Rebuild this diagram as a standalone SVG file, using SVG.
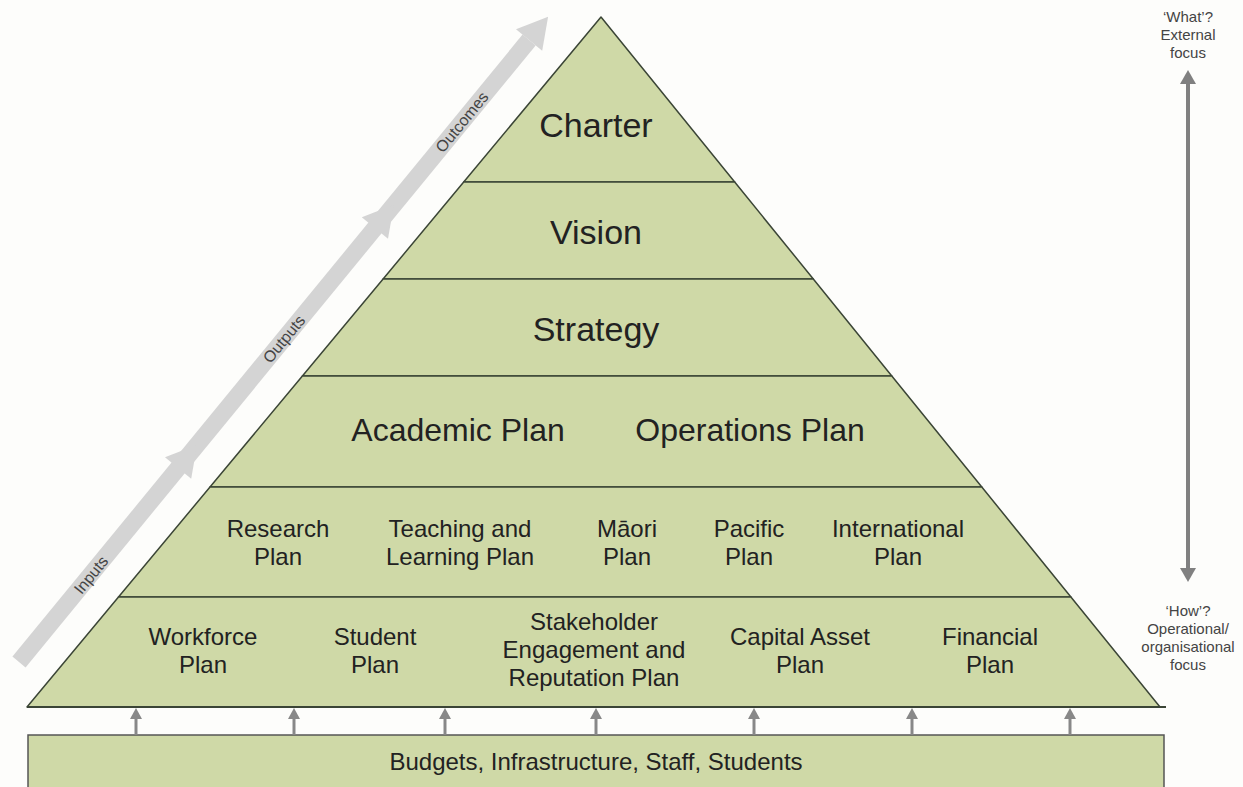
<svg xmlns="http://www.w3.org/2000/svg" width="1243" height="787" viewBox="0 0 1243 787">
<style>
.tier{fill:#cfd9a7;stroke:#3b4536;stroke-width:1.5;stroke-linejoin:round}
.t{font-family:"Liberation Sans",Arial,sans-serif;fill:#222;text-anchor:middle}
.big{font-size:34px}
.mid{font-size:32px}
.sm{font-size:24px}
.side{font-family:"Liberation Sans",Arial,sans-serif;font-size:15px;fill:#444;text-anchor:middle}
.band{font-family:"Liberation Sans",Arial,sans-serif;font-size:16px;fill:#444;text-anchor:middle}
.up{stroke:#888;stroke-width:3;fill:none}
.uph{fill:#888}
</style>
<rect x="0" y="0" width="1243" height="787" fill="#fdfdfb"/>

<g id="flow-band">
<line x1="19" y1="662" x2="529.1" y2="40" stroke="#d4d4d4" stroke-width="17"/>
<polygon points="191.2,478.8 165,457.2 197.1,444.8" fill="#d4d4d4"/>
<polygon points="388,238.8 361.8,217.2 393.9,204.8" fill="#d4d4d4"/>
<polygon points="542.2,50.8 516,29.2 548.1,16.8" fill="#d4d4d4"/>
<text class="band" transform="translate(91,575) rotate(-50.6)" dy="5.5">Inputs</text>
<text class="band" transform="translate(284,339) rotate(-50.6)" dy="5.5">Outputs</text>
<text class="band" transform="translate(462,122) rotate(-50.6)" dy="5.5">Outcomes</text>
</g>

<g id="charter">
<polygon class="tier" points="601,17 734.7,182 463.7,182"/>
<text class="t big" x="596" y="137">Charter</text>
</g>
<g id="vision">
<polygon class="tier" points="463.7,182 734.7,182 813.3,279 383.1,279"/>
<text class="t big" x="596" y="244">Vision</text>
</g>
<g id="strategy">
<polygon class="tier" points="383.1,279 813.3,279 891.8,376 302.4,376"/>
<text class="t big" x="596" y="341">Strategy</text>
</g>
<g id="academic-operations">
<polygon class="tier" points="302.4,376 891.8,376 981.8,487 210,487"/>
<g id="academic-plan"><text class="t mid" x="458" y="441">Academic Plan</text></g>
<g id="operations-plan"><text class="t mid" x="750" y="441">Operations Plan</text></g>
</g>
<g id="academic-plans">
<polygon class="tier" points="210,487 981.8,487 1070.9,597 118.5,597"/>
<g id="research-plan"><text class="t sm" x="278" y="537">Research</text><text class="t sm" x="278" y="565">Plan</text></g>
<g id="teaching-plan"><text class="t sm" x="460" y="537">Teaching and</text><text class="t sm" x="460" y="565">Learning Plan</text></g>
<g id="maori-plan"><text class="t sm" x="627" y="537">Māori</text><text class="t sm" x="627" y="565">Plan</text></g>
<g id="pacific-plan"><text class="t sm" x="749" y="537">Pacific</text><text class="t sm" x="749" y="565">Plan</text></g>
<g id="international-plan"><text class="t sm" x="898" y="537">International</text><text class="t sm" x="898" y="565">Plan</text></g>
</g>
<g id="operations-plans">
<polygon class="tier" points="118.5,597 1070.9,597 1160,707 27,707"/>
<line x1="27" y1="707" x2="1166" y2="707" stroke="#3b4536" stroke-width="2"/>
<g id="workforce-plan"><text class="t sm" x="203" y="645">Workforce</text><text class="t sm" x="203" y="673">Plan</text></g>
<g id="student-plan"><text class="t sm" x="375" y="645">Student</text><text class="t sm" x="375" y="673">Plan</text></g>
<g id="stakeholder-plan"><text class="t sm" x="594" y="630">Stakeholder</text><text class="t sm" x="594" y="658">Engagement and</text><text class="t sm" x="594" y="686">Reputation Plan</text></g>
<g id="capital-asset-plan"><text class="t sm" x="800" y="645">Capital Asset</text><text class="t sm" x="800" y="673">Plan</text></g>
<g id="financial-plan"><text class="t sm" x="990" y="645">Financial</text><text class="t sm" x="990" y="673">Plan</text></g>
</g>

<g id="resources">
<rect x="28" y="735" width="1136" height="70" fill="#cfd9a7" stroke="#555" stroke-width="1.5"/>
<text class="t sm" x="596" y="770">Budgets, Infrastructure, Staff, Students</text>
</g>

<g id="connectors">
<g>
<line class="up" x1="136" y1="735" x2="136" y2="716"/><polygon class="uph" points="136,708 130,719 142,719"/>
<line class="up" x1="294" y1="735" x2="294" y2="716"/><polygon class="uph" points="294,708 288,719 300,719"/>
<line class="up" x1="445" y1="735" x2="445" y2="716"/><polygon class="uph" points="445,708 439,719 451,719"/>
<line class="up" x1="596" y1="735" x2="596" y2="716"/><polygon class="uph" points="596,708 590,719 602,719"/>
<line class="up" x1="754" y1="735" x2="754" y2="716"/><polygon class="uph" points="754,708 748,719 760,719"/>
<line class="up" x1="912" y1="735" x2="912" y2="716"/><polygon class="uph" points="912,708 906,719 918,719"/>
<line class="up" x1="1070" y1="735" x2="1070" y2="716"/><polygon class="uph" points="1070,708 1064,719 1076,719"/>
</g>
<g id="focus-arrow">
<line x1="1188" y1="80" x2="1188" y2="572" stroke="#808080" stroke-width="4"/>
<polygon points="1188,70 1180,84 1196,84" fill="#808080"/>
<polygon points="1188,582 1180,568 1196,568" fill="#808080"/>
</g>
</g>

<g id="what-label">
<text class="side" x="1188" y="22">‘What’?</text>
<text class="side" x="1188" y="40">External</text>
<text class="side" x="1188" y="58">focus</text>
</g>
<g id="how-label">
<text class="side" x="1188" y="616">‘How’?</text>
<text class="side" x="1188" y="634">Operational/</text>
<text class="side" x="1188" y="652">organisational</text>
<text class="side" x="1188" y="670">focus</text>
</g>
</svg>
